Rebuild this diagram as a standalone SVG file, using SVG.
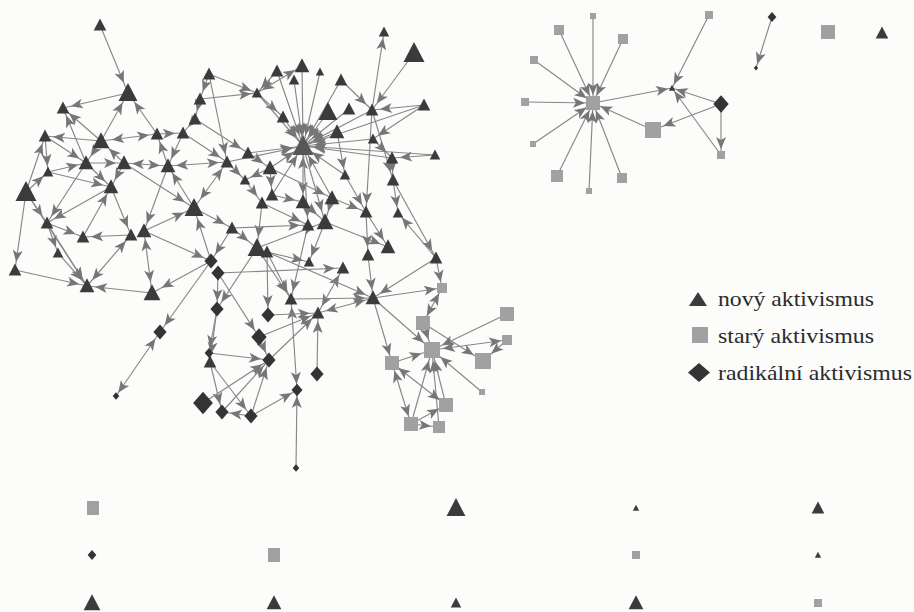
<svg xmlns="http://www.w3.org/2000/svg" width="914" height="612" viewBox="0 0 914 612">
<style>
#edges line{stroke:#878787;stroke-width:1.15}
.e4{marker-end:url(#a4)} .e6{marker-end:url(#a6)} .e8{marker-end:url(#a8)} .e11{marker-end:url(#a11)}
.b6{marker-start:url(#a6)} .b8{marker-start:url(#a8)} .b11{marker-start:url(#a11)}
.t{fill:#3b3b3b} .d{fill:#343434} .s{fill:#a1a1a1}
.h{fill:#575757}
.lg{font-family:"Liberation Serif","DejaVu Serif",serif;font-size:21px;fill:#2b2b2b}
</style>
<defs>
<path id="tri" d="M0,-1.1 L1.05,0.9 L-1.05,0.9Z"/>
<rect id="sq" x="-1" y="-1" width="2" height="2"/>
<path id="dia" d="M0,-1.25 L1.1,0 L0,1.25 L-1.1,0Z"/>
<marker id="a4" markerUnits="userSpaceOnUse" markerWidth="13" markerHeight="10" refX="16" refY="5" orient="auto-start-reverse" overflow="visible"><path d="M0,0L12,5L0,10L3,5Z" fill="#767676"/></marker>
<marker id="a6" markerUnits="userSpaceOnUse" markerWidth="13" markerHeight="10" refX="18" refY="5" orient="auto-start-reverse" overflow="visible"><path d="M0,0L12,5L0,10L3,5Z" fill="#767676"/></marker>
<marker id="a8" markerUnits="userSpaceOnUse" markerWidth="13" markerHeight="10" refX="20" refY="5" orient="auto-start-reverse" overflow="visible"><path d="M0,0L12,5L0,10L3,5Z" fill="#767676"/></marker>
<marker id="a11" markerUnits="userSpaceOnUse" markerWidth="13" markerHeight="10" refX="23" refY="5" orient="auto-start-reverse" overflow="visible"><path d="M0,0L12,5L0,10L3,5Z" fill="#767676"/></marker>
</defs>
<rect width="914" height="612" fill="#fcfcfb"/>
<g id="edges">
<line x1="100" y1="25" x2="128" y2="93" class="e11"/>
<line x1="101" y1="141" x2="128" y2="93" class="e11"/>
<line x1="157" y1="134" x2="128" y2="93" class="e11"/>
<line x1="101" y1="141" x2="63" y2="108" class="e8"/>
<line x1="86" y1="163" x2="63" y2="108" class="e8"/>
<line x1="101" y1="141" x2="45" y2="136" class="e8"/>
<line x1="101" y1="141" x2="157" y2="134" class="e8 b11"/>
<line x1="157" y1="134" x2="183" y2="133" class="e8"/>
<line x1="26" y1="192" x2="45" y2="136" class="e8"/>
<line x1="26" y1="192" x2="15" y2="270" class="e8"/>
<line x1="15" y1="270" x2="87" y2="286" class="e8"/>
<line x1="26" y1="192" x2="48" y2="172" class="e6"/>
<line x1="48" y1="172" x2="86" y2="163" class="e8"/>
<line x1="101" y1="141" x2="86" y2="163" class="e8"/>
<line x1="124" y1="163" x2="101" y2="141" class="e11"/>
<line x1="86" y1="163" x2="124" y2="163" class="e8"/>
<line x1="124" y1="163" x2="168" y2="166" class="e8 b8"/>
<line x1="168" y1="166" x2="157" y2="134" class="e8"/>
<line x1="183" y1="133" x2="168" y2="166" class="e8"/>
<line x1="195" y1="119" x2="183" y2="133" class="e8"/>
<line x1="200" y1="99" x2="195" y2="119" class="e8"/>
<line x1="209" y1="74" x2="200" y2="99" class="e8"/>
<line x1="209" y1="74" x2="257" y2="93" class="e6"/>
<line x1="200" y1="99" x2="257" y2="93" class="e6"/>
<line x1="168" y1="166" x2="227" y2="162" class="e8 b8"/>
<line x1="86" y1="163" x2="111" y2="187" class="e8"/>
<line x1="124" y1="163" x2="111" y2="187" class="e8"/>
<line x1="48" y1="172" x2="111" y2="187" class="e8"/>
<line x1="26" y1="192" x2="47" y2="223" class="e8"/>
<line x1="26" y1="192" x2="87" y2="286" class="e8"/>
<line x1="111" y1="187" x2="47" y2="223" class="e8"/>
<line x1="47" y1="223" x2="58" y2="253" class="e6"/>
<line x1="47" y1="223" x2="87" y2="286" class="e8"/>
<line x1="58" y1="253" x2="87" y2="286" class="e8"/>
<line x1="83" y1="237" x2="111" y2="187" class="e8"/>
<line x1="47" y1="223" x2="83" y2="237" class="e8"/>
<line x1="131" y1="235" x2="87" y2="286" class="e8 b8"/>
<line x1="111" y1="187" x2="131" y2="235" class="e8"/>
<line x1="144" y1="231" x2="152" y2="293" class="e11 b8"/>
<line x1="152" y1="293" x2="87" y2="286" class="e8"/>
<line x1="131" y1="235" x2="83" y2="237" class="e8"/>
<line x1="144" y1="231" x2="194" y2="208" class="e11"/>
<line x1="124" y1="163" x2="194" y2="208" class="e11"/>
<line x1="194" y1="208" x2="168" y2="166" class="e8"/>
<line x1="194" y1="208" x2="227" y2="162" class="e8 b11"/>
<line x1="194" y1="208" x2="232" y2="228" class="e8"/>
<line x1="211" y1="261" x2="194" y2="208" class="e11"/>
<line x1="144" y1="231" x2="211" y2="261" class="e8"/>
<line x1="211" y1="261" x2="152" y2="293" class="e11"/>
<line x1="168" y1="166" x2="144" y2="231" class="e8"/>
<line x1="86" y1="163" x2="47" y2="223" class="e8"/>
<line x1="45" y1="136" x2="48" y2="172" class="e6"/>
<line x1="45" y1="136" x2="86" y2="163" class="e8"/>
<line x1="128" y1="93" x2="63" y2="108" class="e8"/>
<line x1="183" y1="133" x2="227" y2="162" class="e8"/>
<line x1="195" y1="119" x2="248" y2="153" class="e8"/>
<line x1="209" y1="74" x2="227" y2="162" class="e8"/>
<line x1="227" y1="162" x2="245" y2="180" class="e6"/>
<line x1="248" y1="153" x2="270" y2="168" class="e8"/>
<line x1="270" y1="168" x2="272" y2="195" class="e8"/>
<line x1="270" y1="168" x2="245" y2="180" class="e6"/>
<line x1="245" y1="180" x2="262" y2="203" class="e8"/>
<line x1="262" y1="203" x2="257" y2="248" class="e11"/>
<line x1="232" y1="228" x2="257" y2="248" class="e11"/>
<line x1="232" y1="228" x2="211" y2="261" class="e8"/>
<line x1="218" y1="273" x2="343" y2="268" class="e8"/>
<line x1="257" y1="248" x2="291" y2="299" class="e8"/>
<line x1="267" y1="252" x2="291" y2="299" class="e8"/>
<line x1="308" y1="225" x2="291" y2="299" class="e8"/>
<line x1="303" y1="202" x2="325" y2="222" class="e11"/>
<line x1="332" y1="198" x2="325" y2="222" class="e11"/>
<line x1="325" y1="222" x2="388" y2="247" class="e8"/>
<line x1="272" y1="195" x2="303" y2="202" class="e8"/>
<line x1="270" y1="168" x2="332" y2="198" class="e8"/>
<line x1="303" y1="202" x2="303" y2="146" class="e11 b8"/>
<line x1="257" y1="248" x2="325" y2="222" class="e11"/>
<line x1="262" y1="203" x2="308" y2="225" class="e8"/>
<line x1="232" y1="228" x2="308" y2="225" class="e8"/>
<line x1="267" y1="252" x2="309" y2="262" class="e6"/>
<line x1="325" y1="222" x2="309" y2="262" class="e6"/>
<line x1="343" y1="268" x2="318" y2="313" class="e8 b8"/>
<line x1="291" y1="299" x2="373" y2="298" class="e8"/>
<line x1="318" y1="313" x2="373" y2="298" class="e8 b8"/>
<line x1="291" y1="299" x2="297" y2="390" class="e6 b8"/>
<line x1="296" y1="468" x2="297" y2="390" class="e6"/>
<line x1="317" y1="374" x2="318" y2="313" class="e8"/>
<line x1="436" y1="258" x2="373" y2="298" class="e8"/>
<line x1="368" y1="255" x2="373" y2="298" class="e8"/>
<line x1="267" y1="252" x2="373" y2="298" class="e8"/>
<line x1="366" y1="212" x2="368" y2="255" class="e8"/>
<line x1="366" y1="212" x2="388" y2="247" class="e8"/>
<line x1="393" y1="180" x2="436" y2="258" class="e8"/>
<line x1="436" y1="258" x2="398" y2="213" class="e6"/>
<line x1="392" y1="158" x2="393" y2="180" class="e8"/>
<line x1="435" y1="155" x2="392" y2="158" class="e8"/>
<line x1="393" y1="180" x2="398" y2="213" class="e6"/>
<line x1="332" y1="198" x2="366" y2="212" class="e8"/>
<line x1="345" y1="175" x2="366" y2="212" class="e8"/>
<line x1="373" y1="298" x2="442" y2="288" class="e6"/>
<line x1="373" y1="298" x2="432" y2="350" class="e11"/>
<line x1="373" y1="298" x2="392" y2="363" class="e8"/>
<line x1="442" y1="288" x2="423" y2="323" class="e8 b6"/>
<line x1="423" y1="323" x2="483" y2="361" class="e11"/>
<line x1="423" y1="323" x2="432" y2="350" class="e11"/>
<line x1="507" y1="314" x2="432" y2="350" class="e11"/>
<line x1="507" y1="340" x2="432" y2="350" class="e11 b6"/>
<line x1="507" y1="340" x2="483" y2="361" class="e11"/>
<line x1="482" y1="392" x2="432" y2="350" class="e11"/>
<line x1="446" y1="405" x2="432" y2="350" class="e11"/>
<line x1="411" y1="424" x2="432" y2="350" class="e11"/>
<line x1="439" y1="427" x2="432" y2="350" class="e11"/>
<line x1="392" y1="363" x2="432" y2="350" class="e11"/>
<line x1="392" y1="363" x2="411" y2="424" class="e8 b8"/>
<line x1="392" y1="363" x2="446" y2="405" class="e8 b8"/>
<line x1="411" y1="424" x2="446" y2="405" class="e8"/>
<line x1="411" y1="424" x2="439" y2="427" class="e8"/>
<line x1="436" y1="258" x2="442" y2="288" class="e6"/>
<line x1="218" y1="273" x2="217" y2="309" class="e8"/>
<line x1="217" y1="309" x2="209" y2="353" class="e6"/>
<line x1="211" y1="261" x2="160" y2="332" class="e8"/>
<line x1="160" y1="332" x2="116" y2="396" class="e4 b8"/>
<line x1="218" y1="273" x2="259" y2="337" class="e8"/>
<line x1="267" y1="252" x2="268" y2="315" class="e8"/>
<line x1="268" y1="315" x2="318" y2="313" class="e8"/>
<line x1="259" y1="337" x2="318" y2="313" class="e8"/>
<line x1="269" y1="360" x2="318" y2="313" class="e8"/>
<line x1="209" y1="353" x2="269" y2="360" class="e8"/>
<line x1="217" y1="309" x2="210" y2="362" class="e8"/>
<line x1="210" y1="362" x2="222" y2="412" class="e8"/>
<line x1="210" y1="362" x2="251" y2="416" class="e8"/>
<line x1="203" y1="403" x2="269" y2="360" class="e8"/>
<line x1="222" y1="412" x2="269" y2="360" class="e8"/>
<line x1="251" y1="416" x2="269" y2="360" class="e8"/>
<line x1="251" y1="416" x2="222" y2="412" class="e8"/>
<line x1="251" y1="416" x2="297" y2="390" class="e6"/>
<line x1="259" y1="337" x2="269" y2="360" class="e8"/>
<line x1="257" y1="248" x2="217" y2="309" class="e8"/>
<line x1="277" y1="71" x2="303" y2="146" class="e11"/>
<line x1="302" y1="66" x2="303" y2="146" class="e11"/>
<line x1="294" y1="80" x2="303" y2="146" class="e11"/>
<line x1="320" y1="72" x2="303" y2="146" class="e11"/>
<line x1="341" y1="80" x2="303" y2="146" class="e11"/>
<line x1="257" y1="93" x2="303" y2="146" class="e11"/>
<line x1="283" y1="117" x2="303" y2="146" class="e11"/>
<line x1="328" y1="112" x2="303" y2="146" class="e11"/>
<line x1="349" y1="109" x2="303" y2="146" class="e11"/>
<line x1="372" y1="110" x2="303" y2="146" class="e11"/>
<line x1="337" y1="132" x2="303" y2="146" class="e11"/>
<line x1="373" y1="139" x2="303" y2="146" class="e11"/>
<line x1="435" y1="155" x2="303" y2="146" class="e11"/>
<line x1="392" y1="158" x2="303" y2="146" class="e11"/>
<line x1="424" y1="105" x2="303" y2="146" class="e11"/>
<line x1="248" y1="153" x2="303" y2="146" class="e11"/>
<line x1="227" y1="162" x2="303" y2="146" class="e11"/>
<line x1="270" y1="168" x2="303" y2="146" class="e11"/>
<line x1="332" y1="198" x2="303" y2="146" class="e11"/>
<line x1="345" y1="175" x2="303" y2="146" class="e11"/>
<line x1="272" y1="195" x2="303" y2="146" class="e11"/>
<line x1="303" y1="146" x2="308" y2="225" class="e8"/>
<line x1="303" y1="146" x2="325" y2="222" class="e11"/>
<line x1="257" y1="93" x2="302" y2="66" class="e8 b6"/>
<line x1="277" y1="71" x2="257" y2="93" class="e6"/>
<line x1="414" y1="53" x2="372" y2="110" class="e8"/>
<line x1="372" y1="110" x2="384" y2="32" class="e6"/>
<line x1="424" y1="105" x2="372" y2="110" class="e8"/>
<line x1="341" y1="80" x2="372" y2="110" class="e8"/>
<line x1="372" y1="110" x2="393" y2="180" class="e8"/>
<line x1="373" y1="139" x2="392" y2="158" class="e8"/>
<line x1="372" y1="110" x2="366" y2="212" class="e8"/>
<line x1="337" y1="132" x2="345" y2="175" class="e6"/>
<line x1="257" y1="93" x2="283" y2="117" class="e8"/>
<line x1="424" y1="105" x2="373" y2="139" class="e6"/>
<line x1="593" y1="16" x2="593" y2="103" class="e8"/>
<line x1="559" y1="30" x2="593" y2="103" class="e8"/>
<line x1="623" y1="39" x2="593" y2="103" class="e8"/>
<line x1="534" y1="60" x2="593" y2="103" class="e8"/>
<line x1="525" y1="102" x2="593" y2="103" class="e8"/>
<line x1="533" y1="144" x2="593" y2="103" class="e8"/>
<line x1="557" y1="176" x2="593" y2="103" class="e8"/>
<line x1="589" y1="191" x2="593" y2="103" class="e8"/>
<line x1="622" y1="178" x2="593" y2="103" class="e8"/>
<line x1="593" y1="103" x2="672" y2="88" class="e4"/>
<line x1="653" y1="130" x2="593" y2="103" class="e8"/>
<line x1="721" y1="104" x2="653" y2="130" class="e11"/>
<line x1="721" y1="104" x2="721" y2="155" class="e6"/>
<line x1="721" y1="155" x2="672" y2="88" class="e4"/>
<line x1="721" y1="104" x2="672" y2="88" class="e4"/>
<line x1="709" y1="15" x2="672" y2="88" class="e4"/>
<line x1="772" y1="17" x2="756" y2="68" class="e4"/>
</g>
<g id="T1" class="t"><use href="#tri" transform="translate(100 25) scale(6)"/></g>
<g id="T2" class="t"><use href="#tri" transform="translate(128 93) scale(9)"/></g>
<g id="T3" class="t"><use href="#tri" transform="translate(63 108) scale(6)"/></g>
<g id="T4" class="t"><use href="#tri" transform="translate(209 74) scale(6)"/></g>
<g id="T5" class="t"><use href="#tri" transform="translate(200 99) scale(6)"/></g>
<g id="T6" class="t"><use href="#tri" transform="translate(195 119) scale(6)"/></g>
<g id="T7" class="t"><use href="#tri" transform="translate(183 133) scale(6)"/></g>
<g id="T8" class="t"><use href="#tri" transform="translate(157 134) scale(6)"/></g>
<g id="T9" class="t"><use href="#tri" transform="translate(101 141) scale(8)"/></g>
<g id="T10" class="t"><use href="#tri" transform="translate(45 136) scale(6)"/></g>
<g id="T11" class="t"><use href="#tri" transform="translate(86 163) scale(7)"/></g>
<g id="T12" class="t"><use href="#tri" transform="translate(124 163) scale(7)"/></g>
<g id="T13" class="t"><use href="#tri" transform="translate(168 166) scale(7)"/></g>
<g id="T14" class="t"><use href="#tri" transform="translate(48 172) scale(5)"/></g>
<g id="T15" class="t"><use href="#tri" transform="translate(26 192) scale(10)"/></g>
<g id="T16" class="t"><use href="#tri" transform="translate(111 187) scale(7)"/></g>
<g id="T17" class="t"><use href="#tri" transform="translate(194 208) scale(9)"/></g>
<g id="T18" class="t"><use href="#tri" transform="translate(47 223) scale(6)"/></g>
<g id="T19" class="t"><use href="#tri" transform="translate(83 237) scale(6)"/></g>
<g id="T20" class="t"><use href="#tri" transform="translate(131 235) scale(6)"/></g>
<g id="T21" class="t"><use href="#tri" transform="translate(144 231) scale(7)"/></g>
<g id="T22" class="t"><use href="#tri" transform="translate(58 253) scale(5)"/></g>
<g id="T23" class="t"><use href="#tri" transform="translate(15 270) scale(6)"/></g>
<g id="T24" class="t"><use href="#tri" transform="translate(87 286) scale(7)"/></g>
<g id="T25" class="t"><use href="#tri" transform="translate(152 293) scale(8)"/></g>
<g id="T26" class="t"><use href="#tri" transform="translate(227 162) scale(6)"/></g>
<g id="T27" class="t"><use href="#tri" transform="translate(248 153) scale(6)"/></g>
<g id="T28" class="t"><use href="#tri" transform="translate(257 93) scale(5)"/></g>
<g id="T29" class="t"><use href="#tri" transform="translate(270 168) scale(7)"/></g>
<g id="T30" class="t"><use href="#tri" transform="translate(245 180) scale(5)"/></g>
<g id="T31" class="t"><use href="#tri" transform="translate(272 195) scale(6)"/></g>
<g id="T32" class="t"><use href="#tri" transform="translate(262 203) scale(6)"/></g>
<g id="T33" class="t"><use href="#tri" transform="translate(303 202) scale(7)"/></g>
<g id="T34" class="t"><use href="#tri" transform="translate(332 198) scale(7)"/></g>
<g id="T35" class="t"><use href="#tri" transform="translate(232 228) scale(6)"/></g>
<g id="T36" class="t"><use href="#tri" transform="translate(308 225) scale(6)"/></g>
<g id="T37" class="t"><use href="#tri" transform="translate(325 222) scale(8)"/></g>
<g id="T38" class="t"><use href="#tri" transform="translate(257 248) scale(9)"/></g>
<g id="T39" class="t"><use href="#tri" transform="translate(267 252) scale(6)"/></g>
<g id="T40" class="t"><use href="#tri" transform="translate(343 268) scale(6)"/></g>
<g id="T41" class="t"><use href="#tri" transform="translate(291 299) scale(6)"/></g>
<g id="T42" class="t"><use href="#tri" transform="translate(384 32) scale(5)"/></g>
<g id="T43" class="t"><use href="#tri" transform="translate(414 53) scale(10)"/></g>
<g id="T44" class="t"><use href="#tri" transform="translate(302 66) scale(7)"/></g>
<g id="T45" class="t"><use href="#tri" transform="translate(277 71) scale(6)"/></g>
<g id="T46" class="t"><use href="#tri" transform="translate(294 80) scale(5)"/></g>
<g id="T47" class="t"><use href="#tri" transform="translate(320 72) scale(4)"/></g>
<g id="T48" class="t"><use href="#tri" transform="translate(341 80) scale(6)"/></g>
<g id="T49" class="t"><use href="#tri" transform="translate(283 117) scale(6)"/></g>
<g id="T50" class="t"><use href="#tri" transform="translate(328 112) scale(9)"/></g>
<g id="T51" class="t"><use href="#tri" transform="translate(349 109) scale(6)"/></g>
<g id="T52" class="t"><use href="#tri" transform="translate(372 110) scale(6)"/></g>
<g id="T53" class="t"><use href="#tri" transform="translate(424 105) scale(6)"/></g>
<g id="T54" class="t"><use href="#tri" transform="translate(337 132) scale(7)"/></g>
<g id="T55" class="t"><use href="#tri" transform="translate(373 139) scale(5)"/></g>
<g id="HUB" class="h"><use href="#tri" transform="translate(303 146) scale(10)"/></g>
<g id="T56" class="t"><use href="#tri" transform="translate(435 155) scale(5)"/></g>
<g id="T57" class="t"><use href="#tri" transform="translate(392 158) scale(6)"/></g>
<g id="T58" class="t"><use href="#tri" transform="translate(345 175) scale(5)"/></g>
<g id="T59" class="t"><use href="#tri" transform="translate(393 180) scale(6)"/></g>
<g id="T60" class="t"><use href="#tri" transform="translate(366 212) scale(6)"/></g>
<g id="T61" class="t"><use href="#tri" transform="translate(398 213) scale(5)"/></g>
<g id="T62" class="t"><use href="#tri" transform="translate(388 247) scale(7)"/></g>
<g id="T63" class="t"><use href="#tri" transform="translate(368 255) scale(6)"/></g>
<g id="T64" class="t"><use href="#tri" transform="translate(436 258) scale(6)"/></g>
<g id="T66" class="t"><use href="#tri" transform="translate(373 298) scale(7)"/></g>
<g id="T67" class="t"><use href="#tri" transform="translate(318 313) scale(6)"/></g>
<g id="T70" class="t"><use href="#tri" transform="translate(210 362) scale(6)"/></g>
<g id="T71" class="t"><use href="#tri" transform="translate(309 262) scale(5)"/></g>
<g id="D1" class="d"><use href="#dia" transform="translate(211 261) scale(6)"/></g>
<g id="D2" class="d"><use href="#dia" transform="translate(218 273) scale(6)"/></g>
<g id="D3" class="d"><use href="#dia" transform="translate(217 309) scale(6)"/></g>
<g id="D4" class="d"><use href="#dia" transform="translate(160 332) scale(6)"/></g>
<g id="D5" class="d"><use href="#dia" transform="translate(268 315) scale(6)"/></g>
<g id="D6" class="d"><use href="#dia" transform="translate(259 337) scale(7)"/></g>
<g id="D7" class="d"><use href="#dia" transform="translate(209 353) scale(4)"/></g>
<g id="D8" class="d"><use href="#dia" transform="translate(269 360) scale(6)"/></g>
<g id="D9" class="d"><use href="#dia" transform="translate(297 390) scale(5)"/></g>
<g id="D10" class="d"><use href="#dia" transform="translate(203 403) scale(9)"/></g>
<g id="D11" class="d"><use href="#dia" transform="translate(222 412) scale(6)"/></g>
<g id="D12" class="d"><use href="#dia" transform="translate(251 416) scale(6)"/></g>
<g id="D13" class="d"><use href="#dia" transform="translate(116 396) scale(3)"/></g>
<g id="D14" class="d"><use href="#dia" transform="translate(296 468) scale(3)"/></g>
<g id="D15" class="d"><use href="#dia" transform="translate(317 374) scale(6)"/></g>
<g id="S1" class="s"><use href="#sq" transform="translate(442 288) scale(5)"/></g>
<g id="S2" class="s"><use href="#sq" transform="translate(423 323) scale(7)"/></g>
<g id="S3" class="s"><use href="#sq" transform="translate(507 314) scale(7)"/></g>
<g id="S4" class="s"><use href="#sq" transform="translate(507 340) scale(5)"/></g>
<g id="S5" class="s"><use href="#sq" transform="translate(432 350) scale(8)"/></g>
<g id="S6" class="s"><use href="#sq" transform="translate(483 361) scale(8)"/></g>
<g id="S7" class="s"><use href="#sq" transform="translate(392 363) scale(7)"/></g>
<g id="S8" class="s"><use href="#sq" transform="translate(482 392) scale(3)"/></g>
<g id="S9" class="s"><use href="#sq" transform="translate(446 405) scale(7)"/></g>
<g id="S10" class="s"><use href="#sq" transform="translate(411 424) scale(7)"/></g>
<g id="S11" class="s"><use href="#sq" transform="translate(439 427) scale(6)"/></g>
<g id="Q0" class="s"><use href="#sq" transform="translate(593 103) scale(7)"/></g>
<g id="Q1" class="s"><use href="#sq" transform="translate(593 16) scale(3)"/></g>
<g id="Q2" class="s"><use href="#sq" transform="translate(559 30) scale(5)"/></g>
<g id="Q3" class="s"><use href="#sq" transform="translate(623 39) scale(5)"/></g>
<g id="Q4" class="s"><use href="#sq" transform="translate(534 60) scale(4)"/></g>
<g id="Q5" class="s"><use href="#sq" transform="translate(525 102) scale(4)"/></g>
<g id="Q6" class="s"><use href="#sq" transform="translate(533 144) scale(3)"/></g>
<g id="Q7" class="s"><use href="#sq" transform="translate(557 176) scale(6)"/></g>
<g id="Q8" class="s"><use href="#sq" transform="translate(589 191) scale(3)"/></g>
<g id="Q9" class="s"><use href="#sq" transform="translate(622 178) scale(5)"/></g>
<g id="Q10" class="s"><use href="#sq" transform="translate(653 130) scale(8)"/></g>
<g id="Q11" class="s"><use href="#sq" transform="translate(709 15) scale(4)"/></g>
<g id="Q12" class="s"><use href="#sq" transform="translate(721 155) scale(4)"/></g>
<g id="RD" class="d"><use href="#dia" transform="translate(721 104) scale(7)"/></g>
<g id="X" class="t"><use href="#tri" transform="translate(672 88) scale(3)"/></g>
<g id="RD2" class="d"><use href="#dia" transform="translate(772 17) scale(4)"/></g>
<g id="RD3" class="d"><use href="#dia" transform="translate(756 68) scale(2)"/></g>
<g id="Q13" class="s"><use href="#sq" transform="translate(828 32) scale(7)"/></g>
<g id="TT" class="t"><use href="#tri" transform="translate(882 33) scale(6)"/></g>
<g id="B1" class="s"><rect x="87" y="501" width="12" height="14"/></g>
<g id="B2" class="t"><use href="#tri" transform="translate(456 508) scale(9)"/></g>
<g id="B3" class="t"><use href="#tri" transform="translate(636 508) scale(3)"/></g>
<g id="B4" class="t"><use href="#tri" transform="translate(818 508) scale(6)"/></g>
<g id="B5" class="d"><use href="#dia" transform="translate(92 555) scale(4)"/></g>
<g id="B6" class="s"><rect x="268" y="548" width="12" height="14"/></g>
<g id="B7" class="s"><use href="#sq" transform="translate(636 555) scale(4)"/></g>
<g id="B8" class="t"><use href="#tri" transform="translate(818 555) scale(3)"/></g>
<g id="B9" class="t"><use href="#tri" transform="translate(92 603) scale(8)"/></g>
<g id="B10" class="t"><use href="#tri" transform="translate(274 603) scale(7)"/></g>
<g id="B11" class="t"><use href="#tri" transform="translate(456 603) scale(5)"/></g>
<g id="B12" class="t"><use href="#tri" transform="translate(636 603) scale(7)"/></g>
<g id="B13" class="s"><use href="#sq" transform="translate(818 603) scale(4)"/></g>
<g id="legend">
<polygon points="698,292 707,306 689,306" class="t"/>
<text x="718" y="306" class="lg" textLength="156" lengthAdjust="spacingAndGlyphs">nový aktivismus</text>
<rect x="692" y="327" width="16" height="16" class="s"/>
<text x="718" y="343" class="lg" textLength="156" lengthAdjust="spacingAndGlyphs">starý aktivismus</text>
<polygon points="699,363 710,372.5 699,382 688,372.5" class="d"/>
<text x="718" y="380" class="lg" textLength="194" lengthAdjust="spacingAndGlyphs">radikální aktivismus</text>
</g>
</svg>
